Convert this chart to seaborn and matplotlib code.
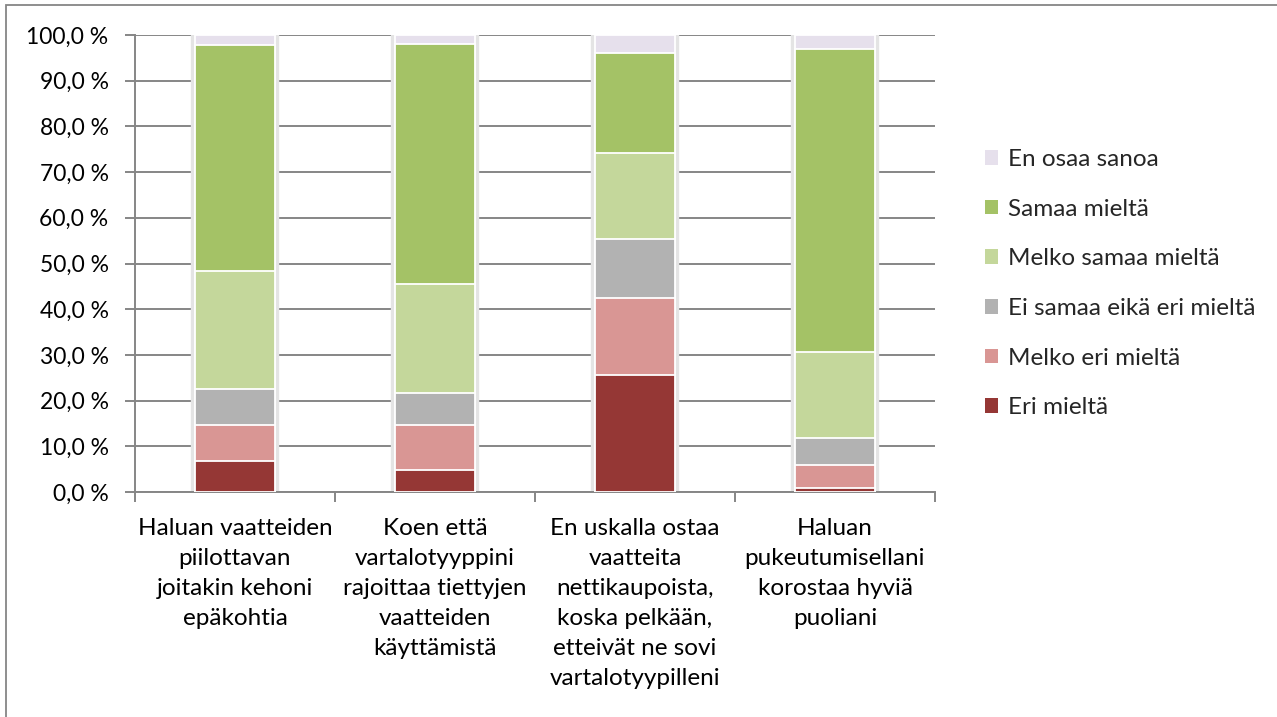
import numpy as np
import pandas as pd
import matplotlib
matplotlib.use("Agg")
import matplotlib.pyplot as plt
import matplotlib.patheffects as pe
from matplotlib.patches import Rectangle
from matplotlib.ticker import MultipleLocator, FuncFormatter
import seaborn as sns

categories = [
    "Haluan vaatteiden\npiilottavan\njoitakin kehoni\nepäkohtia",
    "Koen että\nvartalotyyppini\nrajoittaa tiettyjen\nvaatteiden\nkäyttämistä",
    "En uskalla ostaa\nvaatteita\nnettikaupoista,\nkoska pelkään,\netteivät ne sovi\nvartalotyypilleni",
    "Haluan\npukeutumisellani\nkorostaa hyviä\npuoliani",
]
series = ["Eri mieltä", "Melko eri mieltä", "Ei samaa eikä eri mieltä",
          "Melko samaa mieltä", "Samaa mieltä", "En osaa sanoa"]
eri_mielta = [6.7, 4.8, 25.6, 0.8]
melko_eri = [8.0, 9.9, 16.8, 5.0]
ei_samaa_eika_eri = [7.9, 7.0, 12.9, 6.0]
melko_samaa = [25.8, 23.9, 18.9, 18.9]
samaa = [49.4, 52.4, 21.8, 66.2]
en_osaa = [2.2, 2.0, 4.0, 3.1]
colors = ["#953735", "#D99694", "#B2B2B2", "#C4D79B", "#A4C266", "#E6E0EC"]

values = [eri_mielta, melko_eri, ei_samaa_eika_eri, melko_samaa, samaa, en_osaa]
df = pd.DataFrame({s: v for s, v in zip(series, values)})
cum = df[series].cumsum(axis=1)
cum["cat"] = categories

sns.set_style("white")
plt.rcParams["font.family"] = ["Lato", "DejaVu Sans"]

fig = plt.figure(figsize=(12.77, 7.17), dpi=100)
ax = fig.add_axes([135/1277, 1-492/717, 800/1277, 457/717])

grid_c = "#868686"
for i, s in enumerate(reversed(series)):
    idx = len(series) - 1 - i
    sns.barplot(data=cum, x="cat", y=s, color=colors[idx], ax=ax, width=0.4,
                edgecolor="white", linewidth=1.3, saturation=1, order=categories)
for p in ax.patches[:4]:
    p.set_path_effects([pe.Stroke(linewidth=6, foreground="#e4e4e4"), pe.Normal()])
    p.set_zorder(2)
for p in ax.patches[4:]:
    p.set_zorder(3)

ax.set_ylim(0, 100)
ax.set_xlim(-0.5, 3.5)
ax.yaxis.set_major_locator(MultipleLocator(10))
ax.yaxis.set_major_formatter(FuncFormatter(lambda v, _: f"{v:.1f}".replace(".", ",") + " %"))
ax.grid(axis="y", color=grid_c, linewidth=1.4)
ax.set_axisbelow(True)
for sp in ["top", "right"]:
    ax.spines[sp].set_visible(False)
for sp in ["left", "bottom"]:
    ax.spines[sp].set_color(grid_c)
    ax.spines[sp].set_linewidth(1.4)
ax.set_xlabel("")
ax.set_ylabel("")
ax.tick_params(axis="y", left=True, length=7, color=grid_c, width=1.4,
               labelsize=16.5, pad=12, labelcolor="black")
ax.set_xticks(range(4))
ax.set_xticklabels(categories, fontsize=17.5, linespacing=1.53, color="black")
ax.tick_params(axis="x", bottom=False, pad=15)
ax.set_xticks([-0.5, 0.5, 1.5, 2.5, 3.5], minor=True)
ax.tick_params(axis="x", which="minor", bottom=True, length=7, color=grid_c, width=1.4)

handles = [Rectangle((0, 0), 1, 1, facecolor=c, edgecolor="none") for c in colors]
leg = fig.legend(handles[::-1], series[::-1], loc="upper left",
                 bbox_to_anchor=(968/1277, 1-132/717), frameon=False,
                 fontsize=17.5, handlelength=0.55, handleheight=0.55,
                 handletextpad=0.4, labelspacing=1.18, borderpad=0.2)

fig.patches.append(Rectangle((6/1277, -0.05), 1.1, 1-5/717+0.05, transform=fig.transFigure,
                             fill=False, edgecolor="#868686", linewidth=1.3))

fig.savefig("out.png", dpi=100)
